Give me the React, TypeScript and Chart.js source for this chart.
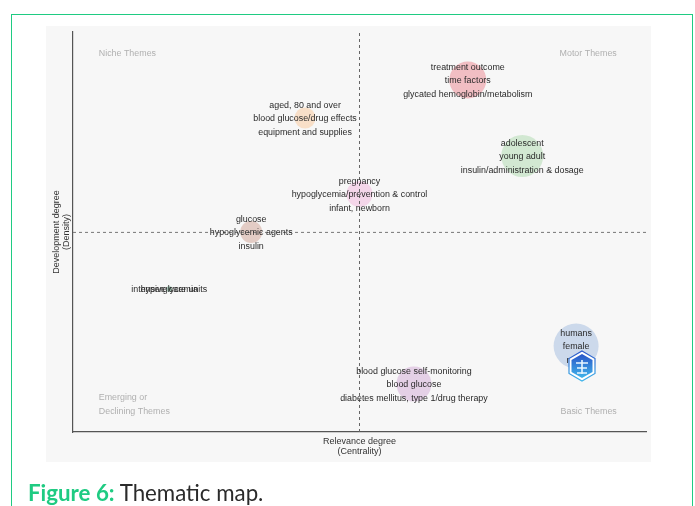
import React, { useEffect, useRef } from "react";
import { Chart, registerables } from "chart.js";

Chart.register(...registerables);

const themeLabels: string[][] = [
  ["treatment outcome", "time factors", "glycated hemoglobin/metabolism"],
  ["adolescent", "young adult", "insulin/administration & dosage"],
  ["pregnancy", "hypoglycemia/prevention & control", "infant, newborn"],
  ["aged, 80 and over", "blood glucose/drug effects", "equipment and supplies"],
  ["glucose", "hypoglycemic agents", "insulin"],
  ["intensive care units"],
  ["hyperglycemia"],
  ["humans", "female", "male"],
  ["blood glucose self-monitoring", "blood glucose", "diabetes mellitus, type 1/drug therapy"],
];
const centrality = [68.9, 78.4, 50.0, 40.5, 31.1, 16.8, 16.8, 87.8, 59.5];
const density = [88.0, 69.0, 59.5, 78.5, 50.0, 35.75, 35.75, 21.5, 12.0];
const clusterSize = [18.5, 21, 13, 10.5, 11, 2, 3, 22.5, 17.5];
const clusterColors = [
  "rgba(233,120,130,0.45)",
  "rgba(160,212,160,0.42)",
  "rgba(240,170,215,0.42)",
  "rgba(250,190,135,0.42)",
  "rgba(195,135,115,0.38)",
  "rgba(120,180,150,0.45)",
  "rgba(120,180,150,0.45)",
  "rgba(150,180,220,0.45)",
  "rgba(200,150,205,0.4)",
];
const meanCentrality = 50;
const meanDensity = 49.9;
const xTitle = ["Relevance degree", "(Centrality)"];
const yTitle = ["Development degree", "(Density)"];
const caption = ["Figure 6:", " Thematic map."];

const FONT = '"Liberation Sans", Arial, sans-serif';

const textPlugin = {
  id: "themeText",
  afterDatasetsDraw(chart: any) {
    const { ctx, scales } = chart;
    ctx.save();
    ctx.textBaseline = "middle";

    ctx.font = `8.9px ${FONT}`;
    ctx.fillStyle = "#b0b0b0";
    ctx.textAlign = "left";
    ctx.fillText("Niche Themes", scales.x.getPixelForValue(4.5), scales.y.getPixelForValue(94.5));
    ctx.fillText("Emerging or", scales.x.getPixelForValue(4.5), scales.y.getPixelForValue(8.5));
    ctx.fillText("Declining Themes", scales.x.getPixelForValue(4.5), scales.y.getPixelForValue(5));
    ctx.textAlign = "right";
    ctx.fillText("Motor Themes", scales.x.getPixelForValue(94.9), scales.y.getPixelForValue(94.5));
    ctx.fillText("Basic Themes", scales.x.getPixelForValue(94.9), scales.y.getPixelForValue(5));

    ctx.fillStyle = "#2a2a2a";
    ctx.textAlign = "center";
    const meta = chart.getDatasetMeta(0);
    themeLabels.forEach((lines, i) => {
      const el = meta.data[i];
      lines.forEach((line, k) => {
        ctx.fillText(line, el.x, el.y + 0.8 + (k - (lines.length - 1) / 2) * 13.7);
      });
    });
    ctx.restore();
  },
};

export default function App() {
  const ref = useRef<HTMLCanvasElement>(null);

  useEffect(() => {
    const chart = new Chart(ref.current as HTMLCanvasElement, {
      type: "bubble",
      data: {
        datasets: [
          {
            data: centrality.map((x, i) => ({ x, y: density[i], r: clusterSize[i] })),
            backgroundColor: clusterColors,
            borderWidth: 0,
            order: 2,
          },
          {
            type: "line",
            data: [
              { x: meanCentrality, y: 0 },
              { x: meanCentrality, y: 100 },
            ],
            borderColor: "#666666",
            borderWidth: 1,
            borderDash: [3, 3],
            pointRadius: 0,
            order: 1,
          },
          {
            type: "line",
            data: [
              { x: 0, y: meanDensity },
              { x: 100, y: meanDensity },
            ],
            borderColor: "#777777",
            borderWidth: 1,
            borderDash: [3, 3],
            pointRadius: 0,
            order: 1,
          },
        ],
      } as any,
      options: {
        animation: false,
        responsive: false,
        layout: { padding: { left: 52, right: 49, top: 32, bottom: 50 } },
        plugins: { legend: { display: false }, tooltip: { enabled: false } },
        scales: {
          x: {
            type: "linear",
            min: 0,
            max: 100,
            grid: { display: false },
            ticks: { display: false },
            border: { color: "#555555", width: 1.2 },
            afterFit: (s: any) => {
              s.height = 24;
            },
            title: {
              display: true,
              text: xTitle,
              color: "#333333",
              font: { family: FONT, size: 9, lineHeight: 1.1 },
              padding: { top: 4, bottom: 0 },
            },
          },
          y: {
            type: "linear",
            min: 0,
            max: 100,
            grid: { display: false },
            ticks: { display: false },
            border: { color: "#555555", width: 1.2 },
            afterFit: (s: any) => {
              s.width = 21;
            },
            title: {
              display: true,
              text: yTitle,
              color: "#333333",
              font: { family: FONT, size: 9, lineHeight: 1.1 },
              padding: { top: 0, bottom: 3 },
            },
          },
        },
      },
      plugins: [textPlugin],
    } as any);
    return () => chart.destroy();
  }, []);

  return (
    <div style={{ position: "fixed", left: 0, top: 0, width: 695, height: 506, overflow: "hidden", background: "#fff" }}>
      <div style={{ position: "absolute", left: 11, top: 14, width: 680, height: 520, border: "1px solid #1fcb82" }} />
      <div style={{ position: "absolute", left: 46, top: 26, width: 605, height: 436, background: "#f7f7f7", filter: "blur(0.3px)" }} />
      <canvas ref={ref} width={695} height={506} style={{ position: "absolute", left: 0, top: 0, filter: "blur(0.35px)" }} />
      <svg width={36} height={36} viewBox="0 0 36 36" style={{ position: "absolute", left: 564, top: 348 }}>
        <defs>
          <linearGradient id="hexFill" x1="0" y1="0" x2="0" y2="1">
            <stop offset="0" stopColor="#2a55c8" />
            <stop offset="1" stopColor="#3fb4ea" />
          </linearGradient>
        </defs>
        <polygon points="18,3 31,10.5 31,25.5 18,33 5,25.5 5,10.5" fill="#ffffff" stroke="url(#hexFill)" strokeWidth="1.2" />
        <polygon points="18,6 28.5,12 28.5,24 18,30 7.5,24 7.5,12" fill="url(#hexFill)" />
        <path d="M12 15h12M18 12v14M13 20h10M13 25h10" stroke="#e8f6ff" strokeWidth="1.6" fill="none" />
      </svg>
      <div style={{ position: "absolute", left: 28, top: 479, fontFamily: "Lato, sans-serif", fontSize: 22.3, lineHeight: "28px", color: "#2b2b2b", whiteSpace: "pre" }}>
        <b style={{ color: "#1fcb82" }}>{caption[0]}</b>
        {caption[1]}
      </div>
    </div>
  );
}
